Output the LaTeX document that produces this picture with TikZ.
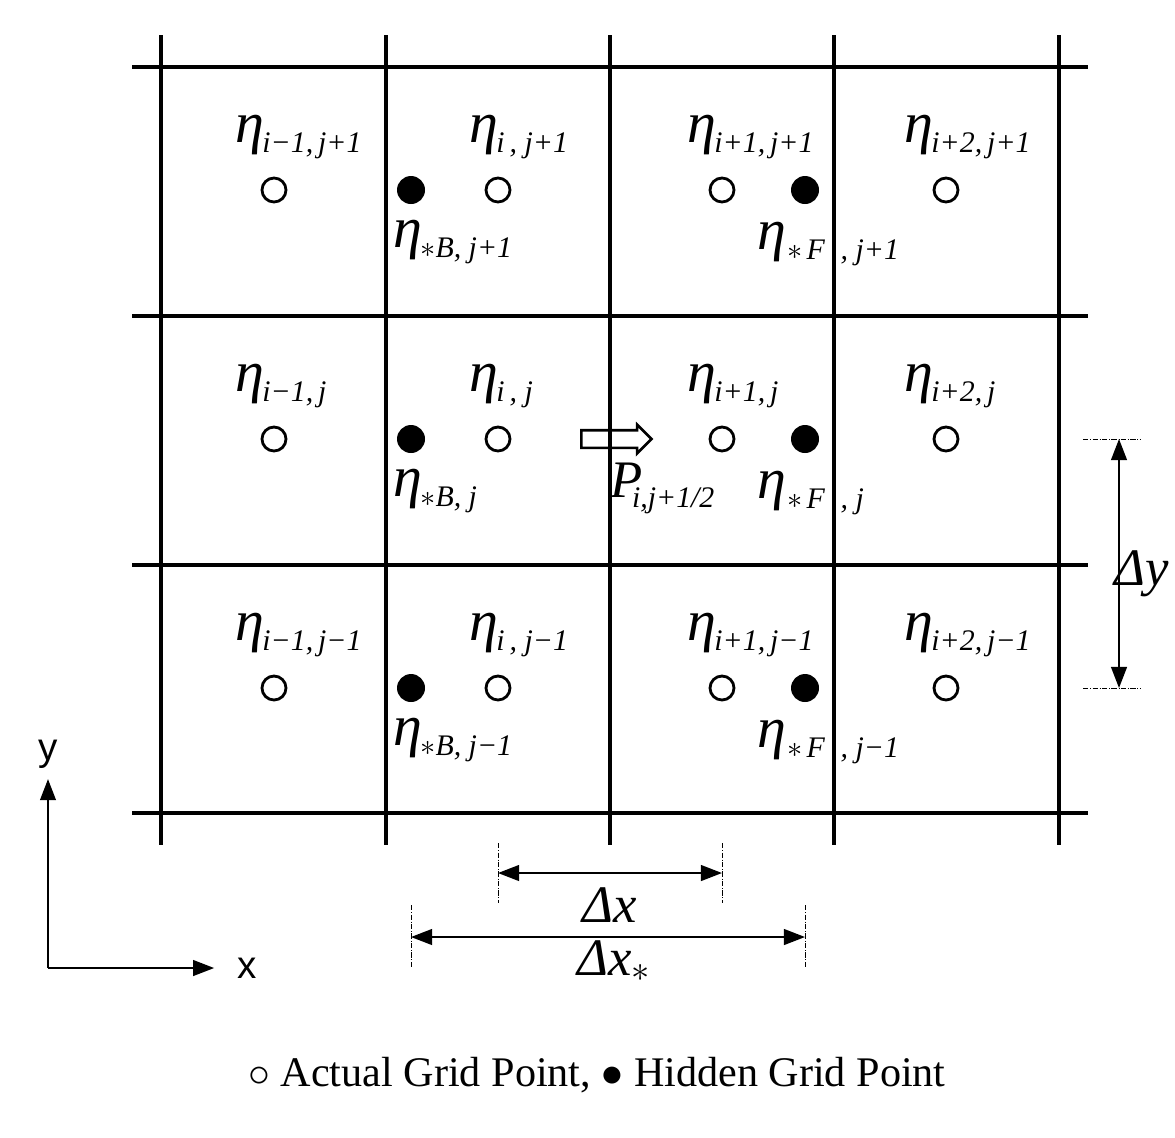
\documentclass[tikz,border=0pt]{standalone}
\usepackage{fontspec}
\setmainfont{Liberation Serif}
\setsansfont{Liberation Sans}
\usetikzlibrary{positioning, arrows.meta, shapes.arrows}

\newcommand{\etalab}[1]{{\fontsize{33}{33}\selectfont\itshape η}\kern-1pt\raisebox{-6pt}{\fontsize{17}{17}\selectfont\itshape #1}}
\newcommand{\starF}[1]{{\fontsize{33}{33}\selectfont\itshape η}\kern1pt\raisebox{-6pt}{\fontsize{17}{17}\selectfont\itshape $\ast$\kern2pt F\hspace{9pt}, #1}}

\begin{document}
\begin{tikzpicture}[x=0.02cm, y=-0.02cm,
    gridline/.style={line width=2.3pt},
    actual/.style={circle, draw, line width=1.6pt, minimum size=0.48cm, inner sep=0pt},
    hidden/.style={circle, fill, minimum size=0.56cm, inner sep=0pt},
    lab/.style={anchor=base west, inner sep=0pt},
    dimarw/.style={{Triangle[length=12pt,width=9pt]}-{Triangle[length=12pt,width=9pt]}, line width=1pt},
    ext/.style={densely dash dot, line width=0.5pt},
    axis/.style={-{Triangle[length=12pt,width=9pt]}, line width=1pt},
    dimlab/.style={font=\fontsize{30}{30}\selectfont, inner sep=0pt},
]
\useasboundingbox (0,0) rectangle (1175,1137);

% Grid
\draw[gridline] (132,67) -- (1088,67);
\draw[gridline] (132,316) -- (1088,316);
\draw[gridline] (132,565) -- (1088,565);
\draw[gridline] (132,813) -- (1088,813);
\draw[gridline] (161,35) -- (161,845);
\draw[gridline] (386,35) -- (386,845);
\draw[gridline] (610,35) -- (610,845);
\draw[gridline] (834,35) -- (834,845);
\draw[gridline] (1059,35) -- (1059,845);

% Grid points
\node[actual] (pim1-1) at (274,190) {};
\node[hidden] (pB-1) at (411,190) {};
\node[actual] (pi-1) at (498,190) {};
\node[actual] (pi1-1) at (722,190) {};
\node[hidden] (pF-1) at (805,190) {};
\node[actual] (pi2-1) at (946,190) {};
\node[actual] (pim1-2) at (274,439) {};
\node[hidden] (pB-2) at (411,439) {};
\node[actual] (pi-2) at (498,439) {};
\node[actual] (pi1-2) at (722,439) {};
\node[hidden] (pF-2) at (805,439) {};
\node[actual] (pi2-2) at (946,439) {};
\node[actual] (pim1-3) at (274,688) {};
\node[hidden] (pB-3) at (411,688) {};
\node[actual] (pi-3) at (498,688) {};
\node[actual] (pi1-3) at (722,688) {};
\node[hidden] (pF-3) at (805,688) {};
\node[actual] (pi2-3) at (946,688) {};

% Values
\node[lab] (eim1-1) at (235,142) {\etalab{i−1,\,j+1}};
\node[lab] (ei-1) at (469,142) {\etalab{i\,, j+1}};
\node[lab] (ei1-1) at (687,142) {\etalab{i+1,\,j+1}};
\node[lab] (ei2-1) at (904,142) {\etalab{i+2,\,j+1}};
\node[lab] (eB-1) at (393,247) {\etalab{$\ast$B, j+1}};
\node[lab] (eF-1) at (757,249) {\starF{j+1}};
\node[lab] (eim1-2) at (235,391) {\etalab{i−1,\,j}};
\node[lab] (ei-2) at (469,391) {\etalab{i\,, j}};
\node[lab] (ei1-2) at (687,391) {\etalab{i+1,\,j}};
\node[lab] (ei2-2) at (904,391) {\etalab{i+2,\,j}};
\node[lab] (eB-2) at (393,496) {\etalab{$\ast$B, j}};
\node[lab] (eF-2) at (757,498) {\starF{j}};
\node[lab] (eim1-3) at (235,640) {\etalab{i−1,\,j−1}};
\node[lab] (ei-3) at (469,640) {\etalab{i\,, j−1}};
\node[lab] (ei1-3) at (687,640) {\etalab{i+1,\,j−1}};
\node[lab] (ei2-3) at (904,640) {\etalab{i+2,\,j−1}};
\node[lab] (eB-3) at (393,745) {\etalab{$\ast$B, j−1}};
\node[lab] (eF-3) at (757,747) {\starF{j−1}};

% Flux
\node[single arrow, draw, line width=1.5pt, minimum height=1.4cm, inner xsep=0pt,
      inner ysep=0.15cm, single arrow head extend=0.11cm] (flux) at (612,439) {};
\node[lab] (P) at (610,497) {{\fontsize{30}{30}\selectfont\itshape P}\kern-6pt\raisebox{-6pt}{\fontsize{17}{17}\selectfont\itshape i,j+1/2}};

% Dimension lines
\coordinate (dy-t) at (1119,439);
\coordinate (dy-b) at (1119,688);
\draw[dimarw] (dy-t) -- (dy-b);
\draw[ext] (dy-t) ++(-36,0) -- ++(57,0);
\draw[ext] (dy-b) ++(-36,0) -- ++(57,0);
\node[dimlab, anchor=base west] (dy) at (1114,585) {\textit{Δy}};

\coordinate (dx-l) at (498,873);
\coordinate (dx-r) at (722,873);
\draw[dimarw] (dx-l) -- (dx-r);
\draw[ext] (dx-l) ++(0,-30) -- ++(0,60);
\draw[ext] (dx-r) ++(0,-30) -- ++(0,60);
\node[dimlab, anchor=base] (dx) at (610,922) {\textit{Δx}};

\coordinate (dxs-l) at (411,937);
\coordinate (dxs-r) at (805,937);
\draw[dimarw] (dxs-l) -- (dxs-r);
\draw[ext] (dxs-l) ++(0,-32) -- ++(0,63);
\draw[ext] (dxs-r) ++(0,-32) -- ++(0,63);
\node[dimlab, anchor=base] (dxs) at (614,975) {\textit{Δx}$_\ast$};

% Axes
\coordinate (origin) at (48,968);
\node[font=\sffamily\fontsize{22}{22}\selectfont, inner sep=1pt] (ylab) at (48,754) {y};
\node[font=\sffamily\fontsize{22}{22}\selectfont, inner sep=1pt] (xlab) at (247,968) {x};
\draw[axis, shorten >=5pt] (origin) -- (ylab);
\draw[axis, shorten >=12pt] (origin) -- (xlab);

% Legend
\node[font=\fontsize{24}{24}\selectfont] (legend) at (597,1075)
    {$\circ$ Actual Grid Point, $\bullet$ Hidden Grid Point};
\end{tikzpicture}
\end{document}
